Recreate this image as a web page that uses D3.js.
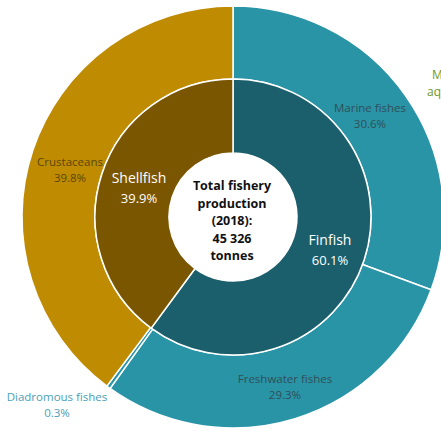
<!DOCTYPE html>
<html>
<head>
<meta charset="utf-8">
<script src="https://cdn.jsdelivr.net/npm/d3@7"></script>
<style>
  html, body { margin: 0; padding: 0; background: #fff; }
  svg { display: block; font-family: "Open Sans", "Noto Sans", sans-serif; }
</style>
</head>
<body>
<svg id="chart" width="441" height="431"></svg>
<script>
// Fishery production 2018, share by group (%)
const groupNames = ["Finfish", "Shellfish"];
const groupShares = [60.1, 39.9];
const groupColors = ["#1b5f6c", "#7b5600"];

const speciesNames = ["Marine fishes", "Freshwater fishes", "Diadromous fishes", "Crustaceans"];
const speciesShares = [30.6, 29.3, 0.3, 39.8];
const speciesColors = ["#2a94a7", "#2a94a7", "#2a94a7", "#bf8b00"];
const speciesLabelColors = ["#2f4f58", "#2f4f58", "#4aa0b9", "#5a4708"];

const centerLines = ["Total fishery", "production", "(2018):", "45 326", "tonnes"];

const svg = d3.select("#chart");
const cx = 233, cy = 217;
const rHole = 64, rInner = 138, rOuter = 211;

const g = svg.append("g").attr("transform", `translate(${cx},${cy})`);

const pie = d3.pie().sort(null).value(d => d.v).startAngle(0).endAngle(2 * Math.PI);

// outer ring: species groups
const outerData = pie(speciesNames.map((n, i) => ({ n, v: speciesShares[i], i })));
const outerArc = d3.arc().innerRadius(rInner).outerRadius(rOuter);
g.selectAll("path.outer").data(outerData).join("path")
  .attr("class", "outer")
  .attr("d", outerArc)
  .attr("fill", d => speciesColors[d.data.i])
  .attr("stroke", "#fff").attr("stroke-width", 1.5);

// inner ring: finfish / shellfish
const innerData = pie(groupNames.map((n, i) => ({ n, v: groupShares[i], i })));
const innerArc = d3.arc().innerRadius(rHole).outerRadius(rInner);
g.selectAll("path.inner").data(innerData).join("path")
  .attr("class", "inner")
  .attr("d", innerArc)
  .attr("fill", d => groupColors[d.data.i])
  .attr("stroke", "#fff").attr("stroke-width", 1.5);

// centre disc
g.append("circle").attr("r", rHole).attr("fill", "#fff");

// centre title
const ct = g.append("text").attr("text-anchor", "middle")
  .attr("font-size", 12.5).attr("font-weight", "bold").attr("fill", "#111");
centerLines.forEach((t, i) => {
  ct.append("tspan").attr("x", -1).attr("y", -27 + i * 17.5).text(t);
});

// inner ring labels
const innerLabelPos = [[97, 28], [-94, -34]];
innerData.forEach((d, i) => {
  const [x, y] = innerLabelPos[i];
  const t = g.append("text").attr("text-anchor", "middle").attr("fill", "#fff");
  t.append("tspan").attr("x", x).attr("y", y).attr("font-size", 14).text(groupNames[i]);
  t.append("tspan").attr("x", x).attr("y", y + 20).attr("font-size", 13)
    .text(d3.format(".1f")(groupShares[i]) + "%");
});

// outer ring labels
const outerLabelPos = [[137, -105], [52, 166], [-176, 184], [-163, -51]];
outerData.forEach((d, i) => {
  const [x, y] = outerLabelPos[i];
  const t = g.append("text").attr("text-anchor", "middle")
    .attr("fill", speciesLabelColors[i]).attr("font-size", 11.5);
  t.append("tspan").attr("x", x).attr("y", y).text(speciesNames[i]);
  t.append("tspan").attr("x", x).attr("y", y + 16)
    .text(d3.format(".1f")(speciesShares[i]) + "%");
});

// neighbouring label at right edge
const side = svg.append("text").attr("fill", "#6f9a22").attr("font-size", 12);
side.append("tspan").attr("x", 432).attr("y", 79).text("Molluscs and other");
side.append("tspan").attr("x", 427).attr("y", 96).text("aquatic animals");
</script>
</body>
</html>
